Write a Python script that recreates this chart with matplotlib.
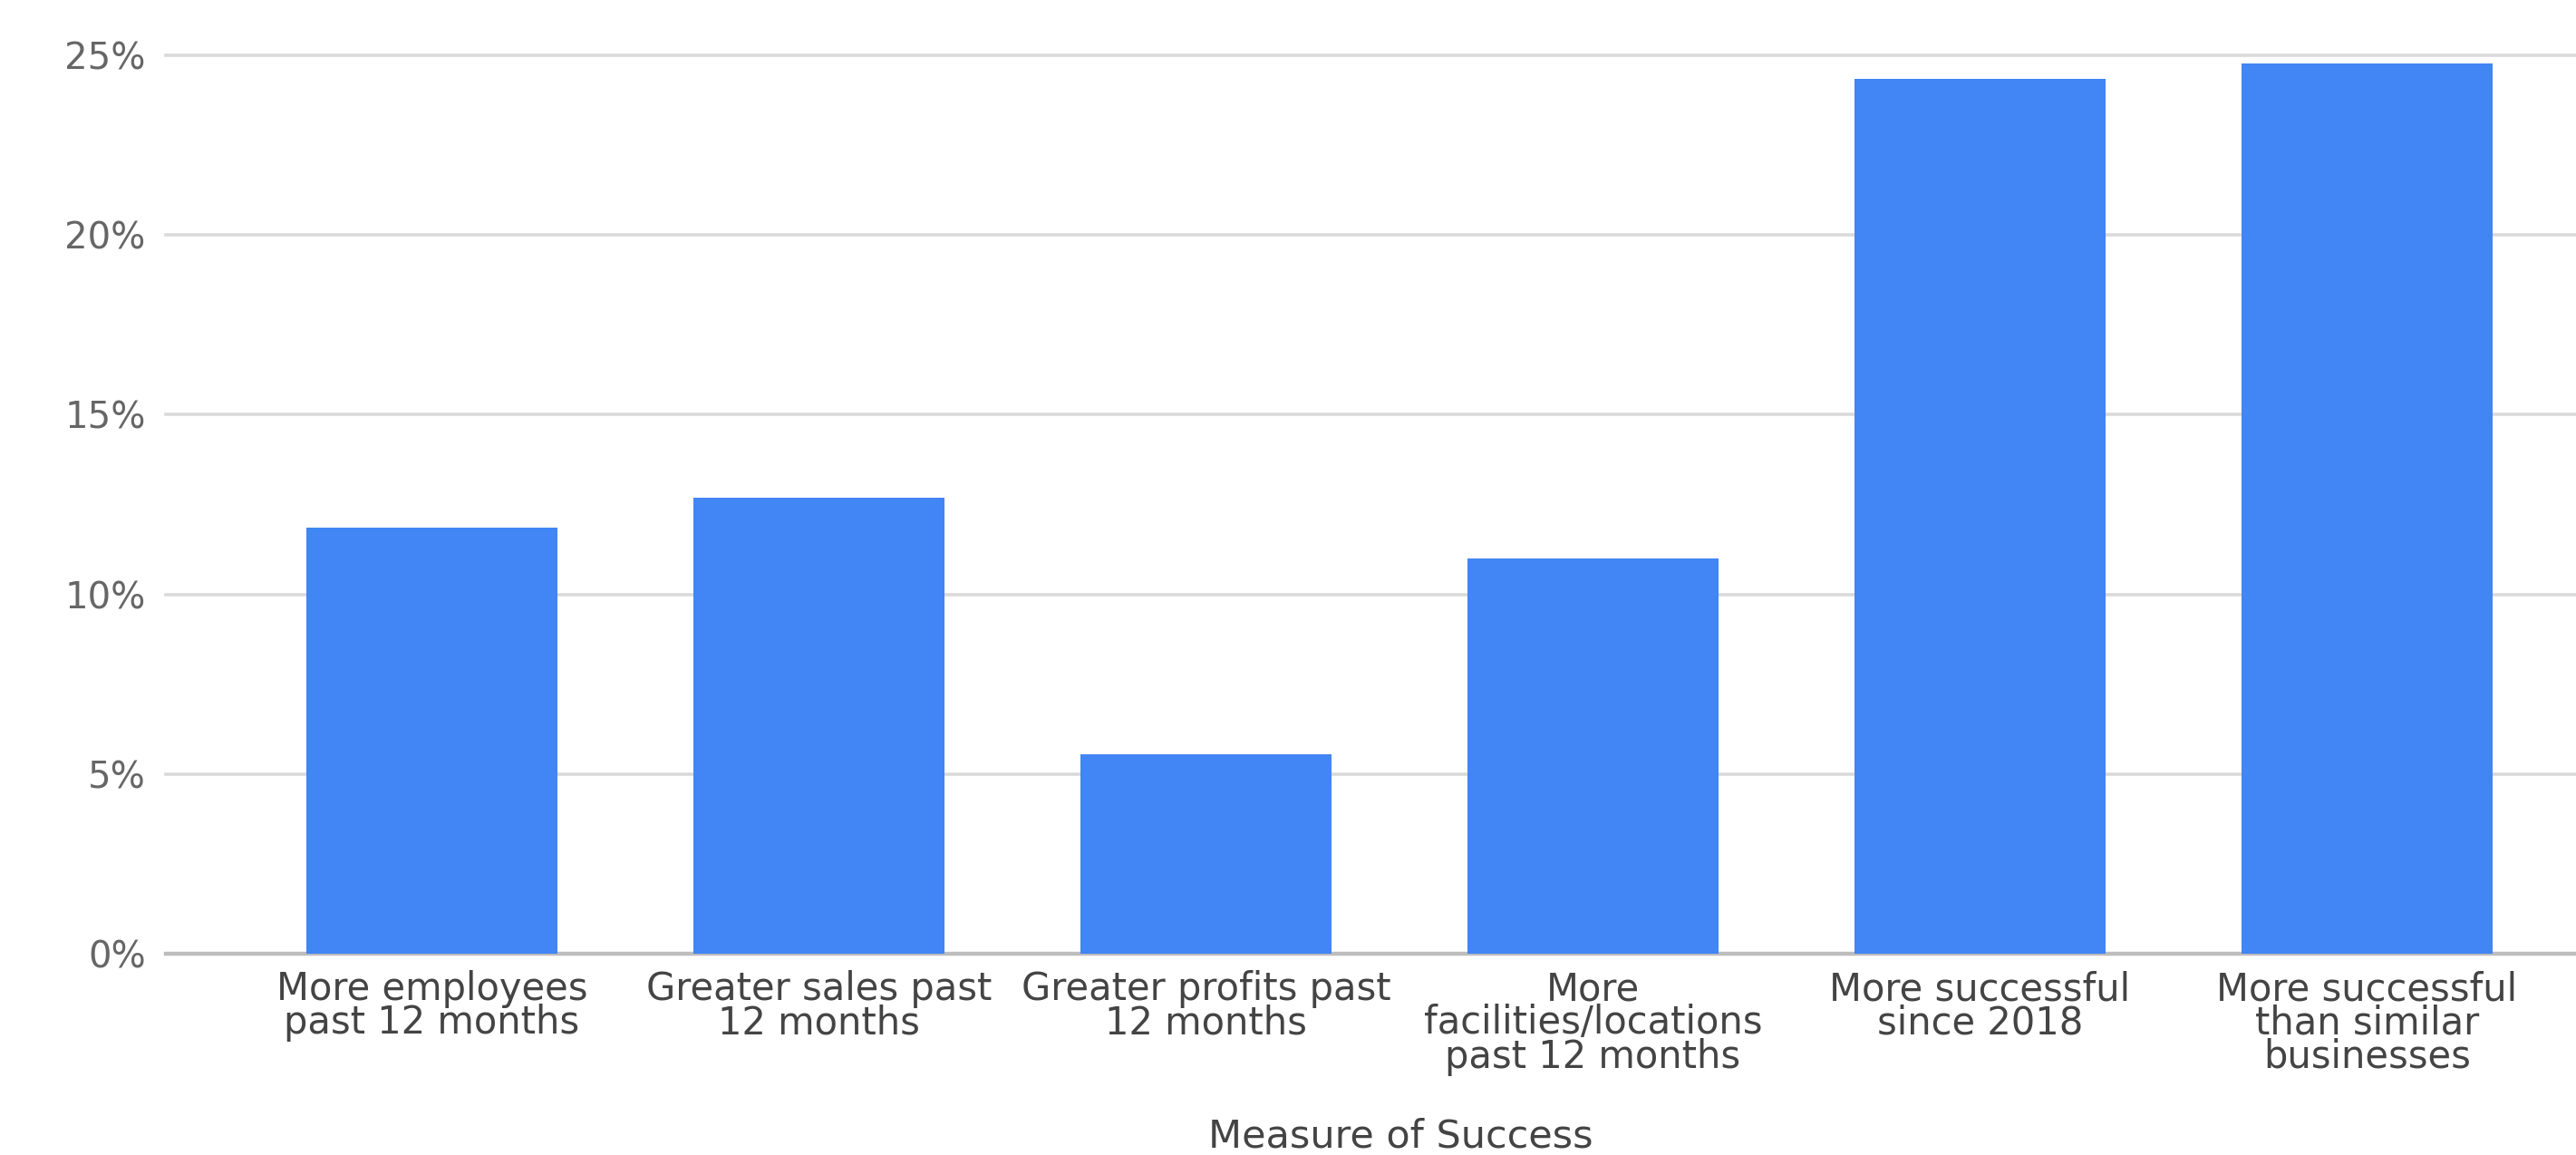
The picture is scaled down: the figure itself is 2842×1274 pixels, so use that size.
import matplotlib
matplotlib.use("Agg")
import matplotlib.pyplot as plt
from matplotlib.ticker import FuncFormatter

categories = [
    "More employees\npast 12 months",
    "Greater sales past\n12 months",
    "Greater profits past\n12 months",
    "More\nfacilities/locations\npast 12 months",
    "More successful\nsince 2018",
    "More successful\nthan similar\nbusinesses",
]
values = [11.86, 12.69, 5.55, 11.0, 24.34, 24.77]
yticks = [0, 5, 10, 15, 20, 25]
xlabel = "Measure of Success"

plt.rcParams['font.family'] = ['DejaVu Sans']

W, H = 2842, 1274
fig = plt.figure(figsize=(W / 100, H / 100), dpi=100)
ax_left, ax_right, ax_top, ax_bottom = 183, 2842, 61, 1052
ax = fig.add_axes([ax_left / W, 1 - ax_bottom / H,
                   (ax_right - ax_left) / W, (ax_bottom - ax_top) / H])

x = list(range(len(categories)))
ax.bar(x, values, width=0.65, color="#4285F4", zorder=3)

ax.set_xlim(-0.687, 5.54)
ax.set_ylim(0, 25)
ax.set_yticks(yticks)
ax.yaxis.set_major_formatter(FuncFormatter(lambda v, p: f"{int(v)}%"))
for t in yticks[1:]:
    ax.axhline(t, color="#dadada", lw=2.6, zorder=1, clip_on=False)
ax.axhline(0, color="#bdbdbd", lw=3.2, zorder=2, clip_on=False)

ax.set_xticks(x)
ax.set_xticklabels(categories, fontsize=30, color="#444444", linespacing=0.86)
ax.tick_params(axis='x', length=0, pad=13)
ax.tick_params(axis='y', length=0, pad=16, labelsize=29, labelcolor="#666666")

for s in ax.spines.values():
    s.set_visible(False)

ax.set_xlabel(xlabel, fontsize=31, color="#444444")
ax.xaxis.set_label_coords((1545 - ax_left) / (ax_right - ax_left),
                          -(1232 - ax_bottom) / (ax_bottom - ax_top))

fig.savefig("out.png", dpi=100, facecolor="white")
